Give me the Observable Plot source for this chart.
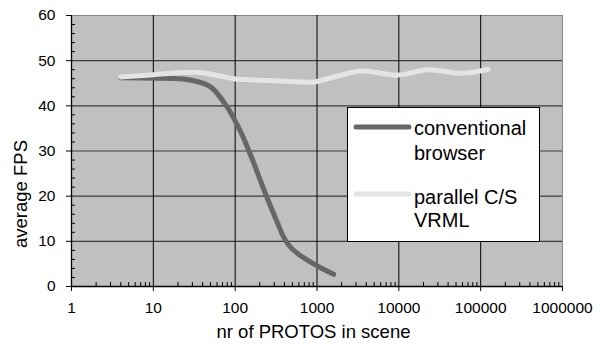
<!DOCTYPE html>
<html>
<head>
<meta charset="utf-8">
<script src="https://cdn.jsdelivr.net/npm/d3@7"></script>
<script src="https://cdn.jsdelivr.net/npm/@observablehq/plot@0.6"></script>
<style>
  html, body { margin: 0; padding: 0; background: #fff; }
  #chart { width: 600px; height: 347px; }
  svg { font-family: "Liberation Sans", Arial, sans-serif; }
</style>
</head>
<body>
<div id="chart"></div>
<script>
// Series: conventional browser
const convX = [4, 10, 20, 30, 50, 80, 120, 160, 240, 320, 400, 480, 600, 1000, 1600];
const convY = [46.2, 46.1, 46.0, 45.6, 44.2, 39.7, 33.8, 28.4, 20.1, 14.6, 10.6, 8.6, 7.1, 4.6, 2.7];
// Series: parallel C/S VRML
const parX = [4, 10, 35, 55, 97, 250, 640, 930, 1800, 3470, 9800, 23000, 58000, 124000];
const parY = [46.4, 46.9, 47.4, 46.9, 46.0, 45.6, 45.3, 45.3, 46.6, 47.7, 46.8, 48.0, 47.2, 48.1];

const seriesNames = ["conventional browser", "parallel C/S VRML"];
const legendLines = [["conventional", "browser"], ["parallel C/S", "VRML"]];
const xTicks = [1, 10, 100, 1000, 10000, 100000, 1000000];
const yTicks = [0, 10, 20, 30, 40, 50, 60];
const xTitle = "nr of PROTOS in scene";
const yTitle = "average FPS";

const colors = ["#676767", "#e4e4e4"];

const conv = convX.map((x, i) => ({x, y: convY[i]}));
const par = parX.map((x, i) => ({x, y: parY[i]}));

const xMinor = [];
for (let d = 1; d < 1000000; d *= 10) for (let k = 2; k <= 9; k++) xMinor.push(d * k);
const yMinor = d3.range(0, 61, 2).filter(v => v % 10 !== 0);

const W = 600, H = 347, mL = 71, mR = 38, mT = 15, mB = 61;
const innerW = W - mL - mR, innerH = H - mT - mB;

const plot = Plot.plot({
  width: W, height: H,
  marginLeft: mL, marginRight: mR, marginTop: mT, marginBottom: mB,
  style: {fontFamily: '"Liberation Sans", Arial, sans-serif', fontSize: "15px", color: "#000", background: "#fff"},
  x: {type: "log", domain: [1, 1000000]},
  y: {domain: [0, 60]},
  marks: [
    Plot.frame({fill: "#c0c0c0", stroke: "#888"}),
    Plot.ruleY(yTicks.filter(v => v > 0 && v < 60), {stroke: "#3a3a3a", strokeWidth: 1.2}),
    Plot.ruleX(xTicks.filter(v => v > 1 && v < 1000000), {stroke: "#000", strokeWidth: 1}),
    Plot.tickY(yMinor, {y: d => d, stroke: "#000", insetRight: innerW - 4}),
    Plot.tickX(xMinor, {x: d => d, stroke: "#000", insetTop: innerH - 4}),
    Plot.ruleX([1], {stroke: "#000", strokeWidth: 1.3}),
    Plot.ruleY([0], {stroke: "#000", strokeWidth: 1.3}),
    Plot.axisY({ticks: yTicks, tickSize: 5, tickPadding: 11, label: null}),
    Plot.axisX({ticks: xTicks, tickFormat: d => String(d), tickSize: 5, tickPadding: 10, label: null}),
    Plot.line(conv, {x: "x", y: "y", stroke: colors[0], strokeWidth: 5, strokeLinecap: "round", curve: "catmull-rom"}),
    Plot.line(par, {x: "x", y: "y", stroke: colors[1], strokeWidth: 5, strokeLinecap: "round", curve: "catmull-rom"})
  ]
});

document.getElementById("chart").appendChild(plot);

const svg = d3.select(plot);
const font = '"Liberation Sans", Arial, sans-serif';

// Tick label font size
svg.selectAll('g[aria-label$="tick label"]').attr("font-size", 15.5).attr("font-family", font).attr("fill", "#000");
svg.selectAll('g[aria-label$="tick label"] text').attr("font-size", 15.5);

// Axis titles
svg.append("text").attr("x", mL + innerW / 2 - 3).attr("y", 338)
  .attr("text-anchor", "middle").attr("font-family", font).attr("font-size", 18.5).attr("fill", "#000").text(xTitle);
svg.append("text").attr("transform", `translate(27,${194}) rotate(-90)`)
  .attr("text-anchor", "middle").attr("font-family", font).attr("font-size", 18.5).attr("fill", "#000").text(yTitle);

// Legend box
const lg = svg.append("g").attr("font-family", font).attr("font-size", 20).attr("text-anchor", "start");
lg.append("rect").attr("x", 347.5).attr("y", 107.5).attr("width", 192).attr("height", 134)
  .attr("fill", "#fff").attr("stroke", "#000");
const entryY = [127, 194];
const textY = [[135, 160], [204, 227]];
seriesNames.forEach((name, i) => {
  lg.append("line").attr("x1", 356).attr("x2", 409).attr("y1", entryY[i]).attr("y2", entryY[i])
    .attr("stroke", colors[i]).attr("stroke-width", 5).attr("stroke-linecap", "round");
  legendLines[i].forEach((t, j) => {
    lg.append("text").attr("x", 414).attr("y", textY[i][j]).attr("fill", "#000").text(t);
  });
});
</script>
</body>
</html>
